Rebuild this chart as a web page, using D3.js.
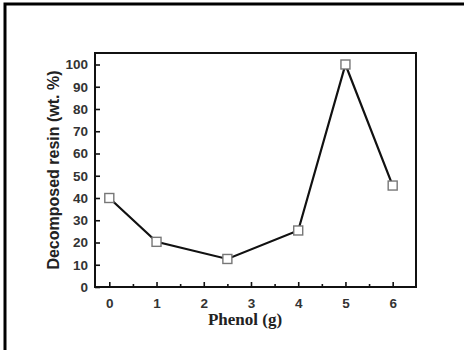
<!DOCTYPE html>
<html>
<head>
<meta charset="utf-8">
<script src="https://cdn.jsdelivr.net/npm/d3@7"></script>
<style>
  body { margin: 0; background: #fff; }
  svg { display: block; }
</style>
</head>
<body>
<div class="chart"></div>
<script>
// data
var phenol = [0, 1, 2.5, 4, 5, 6];
var resin = [40, 20.3, 12.6, 25.4, 100, 45.6];
var xTicks = [0, 1, 2, 3, 4, 5, 6];
var yTicks = [0, 10, 20, 30, 40, 50, 60, 70, 80, 90, 100];

var W = 464, H = 350;
var svg = d3.select('.chart').append('svg').attr('width', W).attr('height', H);

// outer border (top + left only visible)
svg.append('path')
  .attr('d', 'M5,350 V4 H464')
  .attr('fill', 'none').attr('stroke', '#000').attr('stroke-width', 3);

var frame = { left: 95, right: 416, top: 53, bottom: 287 };

var y = d3.scaleLinear().domain([0, 100]).range([frame.bottom, 64.5]);
// 0 sits at 109.3 and 6 at 392.7
var x = d3.scaleLinear()
  .domain([(frame.left - 109.3) / 47.23, (frame.right - 109.3) / 47.23])
  .range([frame.left, frame.right]);

var minorX = d3.range(0.5, 6.5, 1);

// x axis ticks (inward)
var gx = svg.append('g').attr('transform', 'translate(0,' + frame.bottom + ')');
gx.call(d3.axisBottom(x).tickValues(xTicks).tickSize(-5).tickPadding(11).tickFormat(d3.format('d')));
gx.append('g').call(d3.axisBottom(x).tickValues(minorX).tickSize(-3).tickFormat(''));

var gy = svg.append('g').attr('transform', 'translate(' + frame.left + ',0)');
gy.call(d3.axisLeft(y).tickValues(yTicks).tickSize(-5).tickPadding(7));

svg.selectAll('.domain').remove();
svg.selectAll('.tick line').attr('stroke', '#111').attr('stroke-width', 1.6);
svg.selectAll('.tick text')
  .attr('fill', '#333')
  .style('font-family', 'Arial, "Liberation Sans", sans-serif')
  .style('font-weight', 'bold')
  .style('font-size', '13.5px');

// frame
svg.append('rect')
  .attr('x', frame.left).attr('y', frame.top)
  .attr('width', frame.right - frame.left).attr('height', frame.bottom - frame.top)
  .attr('fill', 'none').attr('stroke', '#111').attr('stroke-width', 2);

var pts = phenol.map(function (d, i) { return [d, resin[i]]; });

svg.append('path')
  .datum(pts)
  .attr('fill', 'none')
  .attr('stroke', '#111')
  .attr('stroke-width', 2.2)
  .attr('d', d3.line().x(function (d) { return x(d[0]); }).y(function (d) { return y(d[1]); }));

svg.selectAll('rect.pt').data(pts).enter().append('rect')
  .attr('class', 'pt')
  .attr('x', function (d) { return x(d[0]) - 4.5; })
  .attr('y', function (d) { return y(d[1]) - 4.5; })
  .attr('width', 9).attr('height', 9)
  .attr('fill', '#fff')
  .attr('stroke', '#777')
  .attr('stroke-width', 1.4);

// axis titles
svg.append('text')
  .attr('x', 245)
  .attr('y', 325)
  .attr('text-anchor', 'middle')
  .attr('fill', '#222')
  .style('font-family', '"Liberation Serif", "Times New Roman", serif')
  .style('font-weight', 'bold')
  .style('font-size', '17px')
  .text('Phenol (g)');

svg.append('text')
  .attr('transform', 'translate(59,170) rotate(-90)')
  .attr('text-anchor', 'middle')
  .attr('fill', '#222')
  .style('font-family', 'Arial, "Liberation Sans", sans-serif')
  .style('font-weight', 'bold')
  .style('font-size', '16px')
  .text('Decomposed resin (wt. %)');
</script>
</body>
</html>
